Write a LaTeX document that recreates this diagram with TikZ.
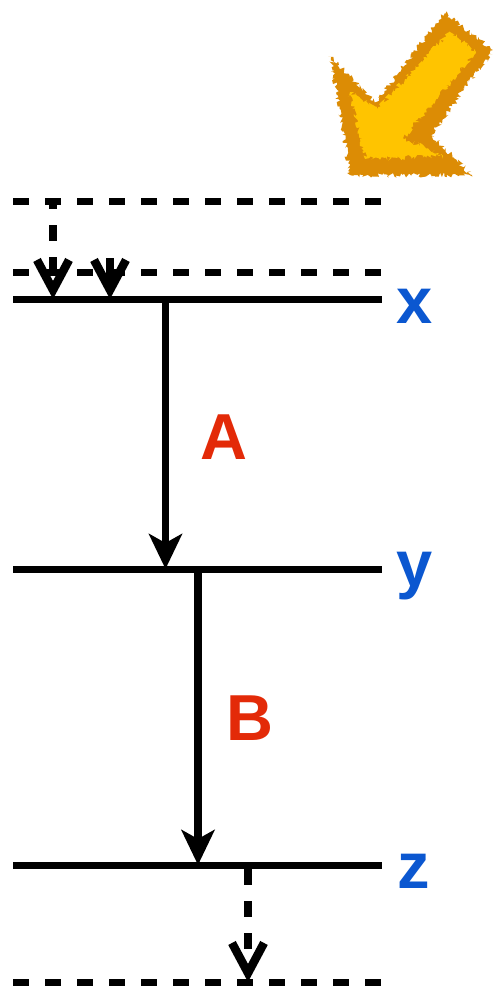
\documentclass[tikz,border=0pt]{standalone}
\usepackage{fontspec}
\setmainfont{Liberation Sans}
\usetikzlibrary{
  arrows.meta,
  decorations.pathmorphing
}
\definecolor{levelBlue}{HTML}{0B57D0}
\definecolor{rateRed}{HTML}{E32A08}
\definecolor{sunFill}{HTML}{FFC400}
\definecolor{sunEdge}{HTML}{DC8C05}
\tikzset{
  levelLine/.style={line width=7.6pt},
  virtualLine/.style={line width=7.6pt, dash pattern=on 16pt off 16pt},
  decayArrow/.style={line width=7.6pt, -{Stealth[length=35pt, width=33pt, inset=9pt]}},
  leakArrow/.style={line width=7.6pt, dash pattern=on 16pt off 16pt,
    -{Straight Barb[length=30pt, width=32pt, line width=8.5pt]}},
  levelLabel/.style={font=\fontsize{65}{65}\bfseries, text=levelBlue, inner sep=0pt},
  rateLabel/.style={font=\fontsize{65}{65}\bfseries, text=rateRed, inner sep=0pt},
  roughEdge/.style={decorate, decoration={random steps, segment length=1.5pt, amplitude=2.6pt}}
}
\begin{document}
\begin{tikzpicture}[x=1pt,y=-1pt]
  \useasboundingbox (0,0) rectangle (495,993);

  % incoming light
  \fill[sunEdge, roughEdge] (331,57) -- (375,103) -- (445,13) -- (493,50)
    -- (431,135) -- (472,175) -- (350,175) -- cycle;
  \fill[sunFill, roughEdge] (350,92) -- (378,108) -- (450,32) -- (476,52)
    -- (403,138) -- (443,156) -- (365,159) -- cycle;

  % levels
  \coordinate (topL) at (13,201.5);
  \coordinate (topR) at (382,201.5);
  \coordinate (upL) at (13,272.5);
  \coordinate (upR) at (382,272.5);
  \coordinate (xL) at (13,299.5);
  \coordinate (xR) at (382,299.5);
  \coordinate (yL) at (13,569.5);
  \coordinate (yR) at (382,569.5);
  \coordinate (zL) at (13,865.5);
  \coordinate (zR) at (382,865.5);
  \coordinate (lowL) at (13,982.5);
  \coordinate (lowR) at (382,982.5);

  \draw[virtualLine] (topL) -- (topR);
  \draw[virtualLine] (upL) -- (upR);
  \draw[levelLine] (xL) -- (xR);
  \draw[levelLine] (yL) -- (yR);
  \draw[levelLine] (zL) -- (zR);
  \draw[virtualLine] (lowL) -- (lowR);

  % transitions
  \coordinate (pumpA) at (53,201);
  \coordinate (pumpB) at (53,299);
  \coordinate (pumpC) at (110,258);
  \coordinate (pumpD) at (110,299);
  \coordinate (decayA) at (165.5,299);
  \coordinate (decayB) at (165.5,569);
  \coordinate (decayC) at (198,569);
  \coordinate (decayD) at (198,865);
  \coordinate (leakA) at (248,865);
  \coordinate (leakB) at (248,982);

  \draw[leakArrow, dash phase=8pt] (pumpA) -- (pumpB);
  \draw[leakArrow, dash pattern=] (pumpC) -- (pumpD);
  \draw[decayArrow] (decayA) -- (decayB);
  \draw[decayArrow] (decayC) -- (decayD);
  \draw[leakArrow, dash phase=28pt] (leakA) -- (leakB);

  \node[levelLabel] (labelX) at (415,306) {x};
  \node[levelLabel] (labelY) at (415,576) {y};
  \node[levelLabel] (labelZ) at (414,871) {z};
  \node[rateLabel] (labelA) at (224,437) {A};
  \node[rateLabel] (labelB) at (250,718) {B};
\end{tikzpicture}
\end{document}
